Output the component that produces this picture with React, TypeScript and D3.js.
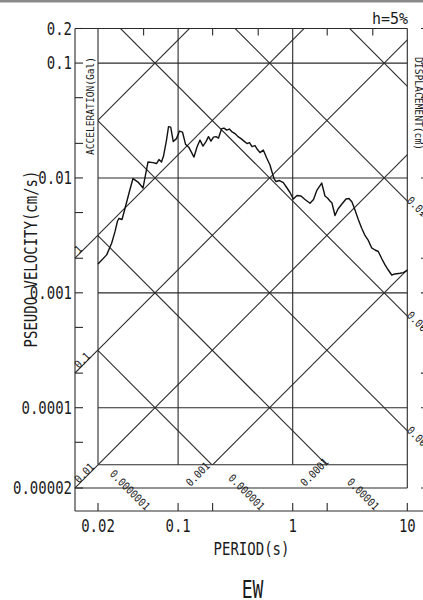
import React from "react";
import * as d3 from "d3";

// ---- data ----
const periods = [0.02, 0.0238, 0.0263, 0.0281, 0.0296, 0.0305, 0.0324, 0.0344, 0.0373, 0.0404, 0.0447, 0.0494, 0.0519, 0.0546, 0.0604, 0.0648, 0.0681, 0.0716, 0.0746, 0.0792, 0.0825, 0.0862, 0.0908, 0.0968, 0.1028, 0.1092, 0.116, 0.1245, 0.1376, 0.1462, 0.1553, 0.1649, 0.1751, 0.1841, 0.1936, 0.2036, 0.2141, 0.2252, 0.2402, 0.2515, 0.2655, 0.2797, 0.2935, 0.3137, 0.3332, 0.3538, 0.3758, 0.3993, 0.4198, 0.4414, 0.4688, 0.493, 0.5184, 0.5538, 0.593, 0.6336, 0.6597, 0.6868, 0.7149, 0.767, 0.8279, 0.8862, 0.9471, 1.012, 1.09, 1.181, 1.28, 1.416, 1.519, 1.629, 1.791, 1.913, 2.012, 2.116, 2.202, 2.339, 2.485, 2.666, 2.918, 3.099, 3.291, 3.496, 3.736, 4.0, 4.274, 4.567, 4.891, 5.226, 5.583, 5.978, 6.39, 6.827, 7.311, 7.809, 8.638, 9.228, 10];
const pseudoVelocity = [0.001784, 0.00214, 0.0027, 0.00339, 0.00422, 0.00444, 0.00435, 0.00542, 0.00739, 0.00988, 0.00921, 0.00817, 0.0106, 0.01375, 0.0136, 0.01335, 0.01446, 0.01375, 0.01551, 0.02136, 0.028, 0.02772, 0.02073, 0.022, 0.0256, 0.0251, 0.0197, 0.01838, 0.0152, 0.01857, 0.02136, 0.01895, 0.02073, 0.0229, 0.02094, 0.02269, 0.0229, 0.02224, 0.0269, 0.02717, 0.0261, 0.02664, 0.02533, 0.02434, 0.0229, 0.022, 0.02094, 0.01992, 0.02032, 0.01876, 0.01914, 0.01767, 0.01663, 0.01748, 0.0149, 0.01295, 0.01126, 0.00988, 0.00931, 0.0095, 0.00912, 0.00826, 0.00747, 0.00656, 0.00703, 0.00696, 0.00649, 0.00602, 0.00649, 0.00785, 0.00903, 0.00696, 0.00669, 0.0063, 0.00605, 0.00471, 0.00537, 0.00587, 0.00656, 0.00662, 0.00617, 0.00526, 0.00435, 0.00365, 0.00316, 0.00286, 0.00246, 0.00236, 0.00229, 0.00199, 0.00175, 0.00158, 0.00143, 0.00146, 0.00148, 0.0015, 0.00157];

const xLabelTicks = [0.02, 0.1, 1, 10];
const xLabelTexts = ["0.02", "0.1", "1", "10"];
const xBottomTicks = [0.02, 0.1, 0.2, 1, 2, 10];
const xTopTicks = [0.05, 0.2, 0.5, 2, 5];
const xGrid = [0.02, 0.1, 1];
const yLabelTicks = [0.2, 0.1, 0.01, 0.001, 0.0001, 0.00002];
const yLabelTexts = ["0.2", "0.1", "0.01", "0.001", "0.0001", "0.00002"];
const yMinorTicks = [0.2, 0.1, 0.05, 0.02, 0.01, 0.005, 0.002, 0.001, 0.0005, 0.0002, 0.0001, 0.00005, 0.00002];
const yGrid = [0.1, 0.01, 0.001, 0.0001];
const accLines = [0.001, 0.01, 0.1, 1, 10, 100, 1000];
const dispLines = [1e-8, 1e-7, 1e-6, 1e-5, 1e-4, 1e-3, 1e-2, 1e-1, 1];
const accStripValues = [1, 0.1, 0.01];
const accStripTexts = ["1", "0.1", "0.01"];
const accBottomValues = [0.001, 0.0001];
const accBottomTexts = ["0.001", "0.0001"];
const dispBottomValues = [1e-7, 1e-6, 1e-5];
const dispBottomTexts = ["0.0000001", "0.000001", "0.00001"];
const dispRightValues = [0.01, 0.001, 0.0001];
const dispRightTexts = ["0.01", "0.001", "0.0001"];
const innerBottomAcc = 0.01; // the 0.01 Gal line meets the 0.02 s line at the inner bottom

// ---- layout ----
const W = 423;
const H = 600;
const LEFT = 75;
const AXIS_Y = 511;
const RIGHT_AXIS_X = 429;
const TWO_PI = 2 * Math.PI;
const MONO = "'DejaVu Sans Mono', monospace";
const INK = "#1a1a1a";
const LINE = "#2a2a2a";

const x = d3.scaleLog().domain([0.02, 10]).range([98, 407.3]);
const y = d3.scaleLog().domain([0.00002, 0.2]).range([488, 28.5]);

const X0 = x(0.02);
const X1 = x(10);
const Y0 = y(0.2);
const Y1 = y(0.00002);
const innerBottomPSV = (innerBottomAcc * 0.02) / TWO_PI;
const YB = y(innerBottomPSV);

const accPSV = (a: number, t: number) => (a * t) / TWO_PI;
const dispPSV = (d: number, t: number) => (d * TWO_PI) / t;

function angleDeg(x0: number, y0: number, x1: number, y1: number) {
  return (Math.atan2(y1 - y0, x1 - x0) * 180) / Math.PI;
}

function Txt(props: {
  x: number; y: number; rot?: number; sy?: number; anchor?: string; size: number; children: React.ReactNode; len?: number;
}) {
  const { x: tx, y: ty, rot = 0, sy = 1, anchor = "start", size, children, len } = props;
  return (
    <text
      transform={`translate(${tx},${ty}) rotate(${rot}) scale(1,${sy})`}
      textAnchor={anchor as any}
      fontSize={size}
      fontFamily={MONO}
      fill={INK}
      {...(len ? { textLength: len, lengthAdjust: "spacingAndGlyphs" } : {})}
    >
      {children}
    </text>
  );
}

export default function App() {
  const line = d3
    .line<number>()
    .x((_, i) => x(periods[i]))
    .y((v) => y(v));

  const tStrip = x.invert(LEFT);
  const psvAxis = y.invert(AXIS_Y);

  return (
    <svg width={W} height={H} style={{ position: "absolute", left: 0, top: 0, background: "#fff" }}>
      <defs>
        <clipPath id="inner">
          <rect x={X0} y={Y0} width={X1 - X0} height={YB - Y0} />
        </clipPath>
      </defs>
      <rect x={0} y={0} width={W} height={2.5} fill="#8a8a8a" />

      {/* diagonal acceleration / displacement lines */}
      <g clipPath="url(#inner)" stroke={LINE} strokeWidth={1.1} fill="none">
        {accLines.map((a) => (
          <line key={"a" + a} x1={x(0.001)} y1={y(accPSV(a, 0.001))} x2={x(100)} y2={y(accPSV(a, 100))} />
        ))}
        {dispLines.map((d) => (
          <line key={"d" + d} x1={x(0.001)} y1={y(dispPSV(d, 0.001))} x2={x(100)} y2={y(dispPSV(d, 100))} />
        ))}
      </g>

      {/* grid */}
      <g stroke={LINE} strokeWidth={1.1}>
        {xGrid.map((t) => (
          <line key={"xg" + t} x1={x(t)} x2={x(t)} y1={Y0} y2={YB} />
        ))}
        {yGrid.map((v) => (
          <line key={"yg" + v} x1={X0} x2={X1} y1={y(v)} y2={y(v)} />
        ))}
        <line x1={X0} x2={X1} y1={YB} y2={YB} />
        {/* frame */}
        <line x1={LEFT} x2={X1} y1={Y0} y2={Y0} />
        <line x1={LEFT} x2={LEFT} y1={Y0} y2={AXIS_Y} />
        <line x1={X1} x2={X1} y1={Y0} y2={Y1} />
        <line x1={LEFT} x2={X1} y1={Y1} y2={Y1} />
        <line x1={LEFT} x2={W + 10} y1={AXIS_Y} y2={AXIS_Y} />
        <line x1={RIGHT_AXIS_X} x2={RIGHT_AXIS_X} y1={Y0} y2={AXIS_Y} />
        {/* ticks */}
        {yMinorTicks.map((v) => (
          <line key={"lt" + v} x1={LEFT} x2={LEFT + 8} y1={y(v)} y2={y(v)} />
        ))}
        {yMinorTicks.map((v) => (
          <line key={"rt" + v} x1={RIGHT_AXIS_X - 8} x2={RIGHT_AXIS_X} y1={y(v)} y2={y(v)} />
        ))}
        {xTopTicks.map((t) => (
          <line key={"tt" + t} x1={x(t)} x2={x(t)} y1={Y0} y2={Y0 + 7} />
        ))}
        {xBottomTicks.map((t) => (
          <line key={"bt" + t} x1={x(t)} x2={x(t)} y1={AXIS_Y} y2={AXIS_Y - 8} />
        ))}
        {/* acceleration lines extended into the left strip */}
        {accStripValues.map((a) => (
          <line key={"as" + a} x1={LEFT} y1={y(accPSV(a, tStrip))} x2={X0} y2={y(accPSV(a, 0.02))} />
        ))}
      </g>

      {/* spectrum */}
      <path d={line(pseudoVelocity) || ""} fill="none" stroke="#111" strokeWidth={1.4} strokeLinejoin="round" />

      {/* diagonal labels */}
      {accStripValues.map((a, i) => {
        const x0 = LEFT, y0 = y(accPSV(a, tStrip));
        const rot = angleDeg(x0, y0, X0, y(accPSV(a, 0.02)));
        return <Txt key={"asl" + a} x={x0 + 4} y={y0 - 4} rot={rot} size={9.5} sy={1.15}>{accStripTexts[i]}</Txt>;
      })}
      {accBottomValues.map((a, i) => {
        const t0 = (0.00002 * TWO_PI) / a;
        const x0 = x(t0), y0 = y(0.00002);
        const tv = (innerBottomPSV * TWO_PI) / a;
        const rot = angleDeg(x0, y0, x(tv), YB);
        return <Txt key={"abl" + a} x={x0 + 1} y={y0 - 1} rot={rot} size={9.5} sy={1.15}>{accBottomTexts[i]}</Txt>;
      })}
      {dispBottomValues.map((d, i) => {
        const tv = (d * TWO_PI) / innerBottomPSV;
        const te = (d * TWO_PI) / psvAxis;
        const rot = angleDeg(x(tv), YB, x(te), AXIS_Y);
        return <Txt key={"dbl" + d} x={x(te) + 2} y={AXIS_Y} rot={rot} anchor="end" size={9.5} sy={1.15}>{dispBottomTexts[i]}</Txt>;
      })}
      {dispRightValues.map((d, i) => {
        const y0 = y(dispPSV(d, 10));
        const rot = angleDeg(x(5), y(dispPSV(d, 5)), X1, y0);
        return <Txt key={"drl" + d} x={X1 - 1} y={y0} rot={rot} size={9.5} sy={1.15}>{dispRightTexts[i]}</Txt>;
      })}

      {/* axis names inside the strips */}
      <Txt x={93.5} y={155} rot={-90} size={10} len={98}>ACCELERATION(Gal)</Txt>
      <Txt x={414.5} y={57} rot={90} size={10} len={93}>DISPLACEMENT(cm)</Txt>

      {/* tick labels */}
      {yLabelTicks.map((v, i) => (
        <Txt key={"yl" + v} x={72} y={y(v) + 6} anchor="end" size={14} sy={1.2}>{yLabelTexts[i]}</Txt>
      ))}
      {xLabelTicks.map((t, i) => (
        <Txt key={"xl" + t} x={x(t)} y={531.5} anchor="middle" size={14} sy={1.2}>{xLabelTexts[i]}</Txt>
      ))}

      {/* titles */}
      <Txt x={251.5} y={555} anchor="middle" size={14} sy={1.2}>PERIOD(s)</Txt>
      <Txt x={37} y={259} rot={-90} anchor="middle" size={14} sy={1.2}>PSEUDO VELOCITY(cm/s)</Txt>
      <Txt x={408} y={24} anchor="end" size={15} sy={1.05}>h=5%</Txt>
      <Txt x={252.5} y={598} anchor="middle" size={18} sy={1.35}>EW</Txt>
    </svg>
  );
}
